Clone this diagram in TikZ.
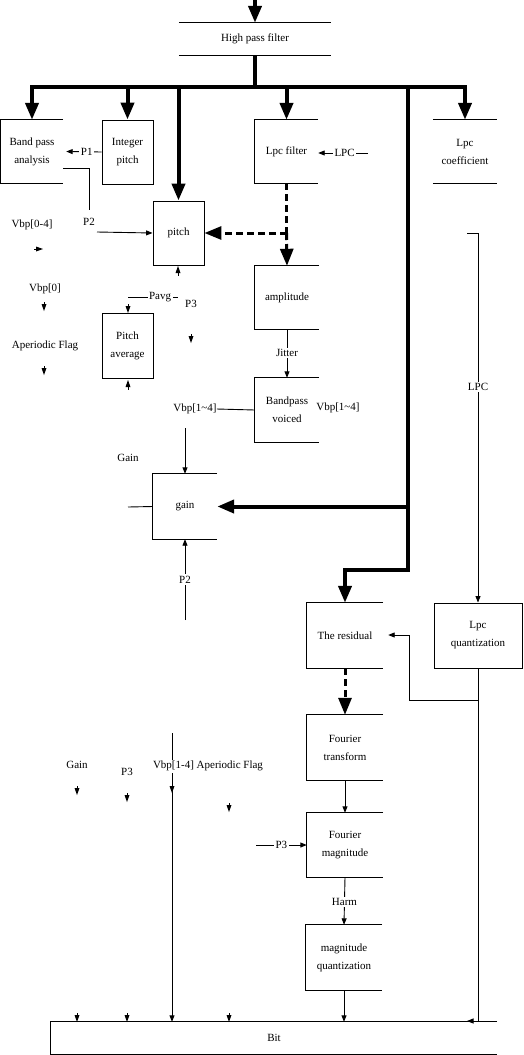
\documentclass[tikz,border=0pt]{standalone}
\usepackage{fontspec}
\setmainfont{Liberation Serif}
\usetikzlibrary{arrows.meta,calc}
\newcommand\tipD[1]{\fill (#1) -- ++(-2.5,-7) -- ++(5,0) -- cycle; \draw[thin line] (#1) ++(0,-7) -- ++(0,-2.5);}
\newcommand\tipU[1]{\fill (#1) -- ++(-2.5,7) -- ++(5,0) -- cycle; \draw[thin line] (#1) ++(0,7) -- ++(0,2.5);}
\newcommand\tipR[1]{\fill (#1) -- ++(-7,-2.5) -- ++(0,5) -- cycle; \draw[thin line] (#1) ++(-7,0) -- ++(-2.5,0);}
\begin{document}
\begin{tikzpicture}[x=1pt,y=-1pt,
  txt/.style={font=\fontsize{11}{18}\selectfont,align=center,inner sep=0pt},
  lbl/.style={font=\fontsize{11}{13}\selectfont,fill=white,inner sep=1.5pt},
  thin line/.style={line width=0.9pt},
  tarrow/.style={thin line,-{Triangle[length=6.5pt,width=5pt]}},
  bus/.style={line width=4pt},
  bigarrow/.style={line width=4pt,-{Triangle[length=17pt,width=13pt]}},
  dasharrow/.style={line width=3pt,dash pattern=on 7pt off 4pt,-{Triangle[length=17pt,width=13pt]}},
  dashline/.style={line width=3pt,dash pattern=on 7pt off 4pt},
  fullbox/.style={draw,thin line},
]
\useasboundingbox (0,0) rectangle (524,1055);

% ---------- blocks ----------
\node[txt,minimum width=152pt,minimum height=32pt] (hpf) at (255,39) {High pass filter};
\node[txt,minimum width=62pt,minimum height=63pt] (bpa) at (32,151.5) {Band pass\\analysis};
\node[txt,fullbox,minimum width=51pt,minimum height=64pt] (ip) at (127.5,152) {Integer\\pitch};
\node[txt,minimum width=63pt,minimum height=63pt] (lpcf) at (286.5,151.5) {Lpc filter};
\node[txt,minimum width=64pt,minimum height=63pt] (lpcc) at (465,151.5) {Lpc\\coefficient};
\node[txt,fullbox,minimum width=51pt,minimum height=64pt] (pitch) at (178.5,233) {pitch};
\node[txt,minimum width=64pt,minimum height=63pt] (amp) at (287,297.5) {amplitude};
\node[txt,minimum width=64pt,minimum height=64pt] (bpv) at (287,410) {Bandpass\\voiced};
\node[txt,fullbox,minimum width=51pt,minimum height=65pt] (pavg) at (127.5,345.5) {Pitch\\average};
\node[txt,minimum width=64pt,minimum height=65pt] (gain) at (185,506.5) {gain};
\node[txt,minimum width=76pt,minimum height=65pt] (res) at (345,635.5) {The residual};
\node[txt,fullbox,minimum width=88pt,minimum height=65pt] (lpcq) at (478,635.5) {Lpc\\quantization};
\node[txt,minimum width=76pt,minimum height=65pt] (ft) at (345,747.5) {Fourier\\transform};
\node[txt,minimum width=76pt,minimum height=64pt] (fm) at (345,845) {Fourier\\magnitude};
\node[txt,minimum width=76pt,minimum height=65pt] (mq) at (344,957.5) {magnitude\\quantization};
\node[txt,minimum width=446pt,minimum height=32pt] (bit) at (274,1038) {Bit};

% open boxes (top, left, bottom)
\foreach \n in {bpa,lpcf,amp,bpv,gain,res,ft,fm,mq,bit}
  \draw[thin line] (\n.north east) -- (\n.north west) -- (\n.south west) -- (\n.south east);
% only top and bottom lines
\foreach \n in {hpf,lpcc}{
  \draw[thin line] (\n.north west) -- (\n.north east);
  \draw[thin line] (\n.south west) -- (\n.south east);}

% ---------- free labels ----------
\node[txt] (tv04) at (32,225) {Vbp[0-4]};
\node[txt] (tv0) at (45,289) {Vbp[0]};
\node[txt] (tap) at (45,346) {Aperiodic Flag};
\node[txt] (tp3a) at (191,304) {P3};
\node[txt] (tgain) at (128,458) {Gain};
\node[txt] (vl) at (195,409) {Vbp[1\textasciitilde4]};
\node[txt] (vr) at (338,408) {Vbp[1\textasciitilde4]};
\node[txt] (tgain2) at (77,765) {Gain};
\node[txt] (tp3b) at (127,772) {P3};

% ---------- thick signal paths ----------
\coordinate (src) at (255,0);
\coordinate (j0) at (255,87);
\coordinate (bl) at (32,87);
\coordinate (br) at (465,87);
\coordinate (jr) at (408,87);
\coordinate (k1) at (408,570);
\draw[bigarrow] (src) -- (hpf.north);
\draw[bus] (hpf.south) -- (j0);
\draw[bus,line cap=rect] (bl) -- (br);
\draw[bigarrow] (bl) -- (bpa.north);
\draw[bigarrow] (ip.north |- j0) -- (ip.north);
\draw[bigarrow] (pitch.north |- j0) -- (pitch.north);
\draw[bigarrow] (lpcf.north |- j0) -- (lpcf.north);
\draw[bigarrow] (br) -- (lpcc.north);
\draw[bigarrow] (jr) -- (k1) -| (res.north);
\draw[bigarrow] (gain.east -| jr) -- (gain.east);

% dashed thick paths
\coordinate (d1) at (lpcf.south |- pitch.east);
\draw[dashline] (lpcf.south) -- (d1);
\draw[dasharrow] (d1) -- (pitch.east);
\draw[dasharrow] (d1) -- (amp.north);
\draw[dasharrow] (res.south) -- (ft.north);

% ---------- thin connectors ----------
\draw[tarrow] (ip.west) -- node[lbl,pos=0.42]{P1} ($(bpa.east)+(3,0)$);
\coordinate (p2a) at (63,168);
\coordinate (p2b) at (89,168);
\coordinate (p2c) at (89,210);
\coordinate (p2d) at (97,232);
\node[txt] (tp2) at (89,222) {P2};
\draw[thin line] (p2a) -- (p2b) -- (p2c);
\draw[tarrow] (p2d) -- (pitch.west);

\coordinate (lpcin) at (368,153);
\draw[tarrow] (lpcin) -- node[lbl,pos=0.47]{LPC} ($(lpcf.east)+(0,1.5)$);

\draw[tarrow] (amp.south) -- node[lbl,pos=0.49]{Jitter} (bpv.north);

\draw[thin line] (vl.east) -- (bpv.west);
\coordinate (vg) at (185,428);
\draw[tarrow] (vg) -- (gain.north);

\coordinate (gl) at (128,507);
\draw[thin line] (gl) -- (gain.west);
\coordinate (p2bot) at (185,620);
\draw[tarrow] (p2bot) -- node[lbl,pos=0.5]{P2} (gain.south);

\coordinate (pv1) at (128,297);
\coordinate (pv2) at (178,297);
\draw[thin line] (pv1) -- node[lbl,pos=0.64]{Pavg} (pv2);

\coordinate (lc1) at (467,233);
\coordinate (lc2) at (478,233);
\draw[tarrow] (lc1) -- (lc2) -- node[lbl,pos=0.416]{LPC} (lpcq.north);

\coordinate (q1) at (478,1021);
\coordinate (q2) at (467,1021);
\draw[tarrow] (lpcq.south) -- (q1) -- (q2);
\coordinate (b1) at (478,700);
\coordinate (b2) at (409,700);
\coordinate (b3) at (409,635);
\draw[tarrow] (b1) -- (b2) -- (b3) -- ($(res.east)+(5,-0.5)$);

\draw[tarrow] (ft.south) -- (fm.north);
\coordinate (p3f) at (256,845);
\draw[tarrow] (p3f) -- node[lbl,pos=0.5]{P3} (fm.west);
\draw[tarrow] (fm.south) -- node[lbl,pos=0.52]{Harm} (mq.north);
\draw[tarrow] (mq.south) -- (mq.south |- bit.north);

\coordinate (v1) at (172,733);
\draw[tarrow] (v1) -- (v1 |- bit.north);
\node[lbl] (tvap) at (208,766) {Vbp[1-4] Aperiodic Flag};

% ---------- stray arrow tips ----------
\tipU{178,266}
\tipD{128,313}
\tipU{128,380}
\tipR{43,249}
\tipD{44,311}
\tipD{44,375}
\tipD{191,343}
\tipD{77,795}
\tipD{127,802}
\tipD{229,812}
\tipD{172,793}
\tipD{77,1022}
\tipD{127,1022}
\tipD{229,1022}
\end{tikzpicture}
\end{document}
